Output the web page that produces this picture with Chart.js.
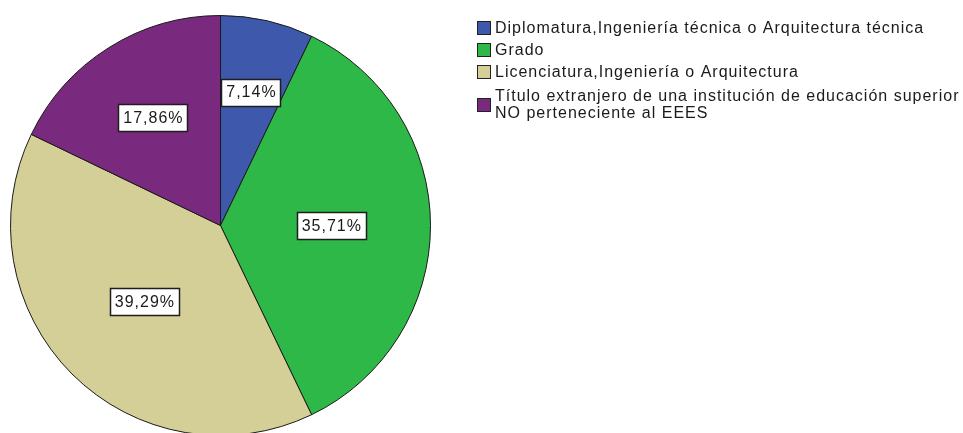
<!DOCTYPE html>
<html>
<head>
<meta charset="utf-8">
<script src="https://cdn.jsdelivr.net/npm/chart.js@4.4.1/dist/chart.umd.min.js"></script>
<style>
  html, body { margin: 0; padding: 0; background: #ffffff; overflow: hidden; }
  #wrap { width: 963px; height: 437px; position: relative; }
</style>
</head>
<body>
<div id="wrap"><canvas id="c" width="963" height="437"></canvas></div>
<script>
// ---- data ----
const categories = [
  'Diplomatura,Ingeniería técnica o Arquitectura técnica',
  'Grado',
  'Licenciatura,Ingeniería o Arquitectura',
  'Título extranjero de una institución de educación superior\nNO perteneciente al EEES'
];
const counts = [2, 10, 11, 5];
const sliceColors = ['#3E58AC', '#2EB848', '#D4CE97', '#79297E'];

const FONT = '16px "Liberation Sans", Arial, sans-serif';

function pctText(v, total) {
  return (v / total * 100).toFixed(2).replace('.', ',') + '%';
}

const sliceLabels = {
  id: 'sliceLabels',
  afterDatasetsDraw(chart) {
    const ctx = chart.ctx;
    const meta = chart.getDatasetMeta(0);
    const data = chart.data.datasets[0].data;
    const total = data.reduce((a, b) => a + b, 0);
    ctx.save();
    ctx.font = FONT;
    try { ctx.letterSpacing = '1px'; } catch (e) {}
    ctx.textAlign = 'center';
    ctx.textBaseline = 'middle';
    meta.data.forEach((arc, i) => {
      const p = arc.getProps(['x', 'y', 'startAngle', 'endAngle', 'outerRadius'], true);
      const pct = data[i] / total * 100;
      const mid = (p.startAngle + p.endAngle) / 2;
      const frac = 0.683 - 0.00435 * pct;
      const cx = p.x + Math.cos(mid) * p.outerRadius * frac;
      const cy = p.y + Math.sin(mid) * p.outerRadius * frac;
      const txt = pctText(data[i], total);
      const tw = ctx.measureText(txt).width;
      const w = Math.round(tw + 9), h = 27;
      const bx = Math.round(cx - w / 2) + 0.5, by = Math.round(cy - h / 2) + 0.5;
      ctx.fillStyle = '#ffffff';
      ctx.fillRect(bx, by, w, h);
      ctx.strokeStyle = '#1e1e1e';
      ctx.lineWidth = 1.5;
      ctx.strokeRect(bx, by, w, h);
      ctx.fillStyle = '#1a1a1a';
      ctx.fillText(txt, cx + 0.5, cy + 1);
    });
    ctx.restore();
  }
};

const sideLegend = {
  id: 'sideLegend',
  afterDraw(chart) {
    const ctx = chart.ctx;
    const labels = chart.data.labels;
    const colors = chart.data.datasets[0].backgroundColor;
    const boxX = 477, box = 13, textX = 495;
    const lineH = 16.5, gap = 5.5;
    let top = 19;
    ctx.save();
    ctx.font = FONT;
    try { ctx.letterSpacing = '1px'; } catch (e) {}
    ctx.textAlign = 'left';
    ctx.textBaseline = 'middle';
    labels.forEach((lab, i) => {
      const lines = lab.split('\n');
      const blockH = lines.length * lineH;
      const midY = top + blockH / 2;
      ctx.fillStyle = colors[i];
      ctx.fillRect(boxX + 0.5, Math.round(midY - box / 2) + 0.5, box, box);
      ctx.strokeStyle = '#222222';
      ctx.lineWidth = 1;
      ctx.strokeRect(boxX + 0.5, Math.round(midY - box / 2) + 0.5, box, box);
      ctx.fillStyle = '#1a1a1a';
      lines.forEach((ln, k) => {
        ctx.fillText(ln, textX, top + lineH * k + lineH / 2 + 1);
      });
      top += blockH + gap + (i === 2 ? 2.5 : 0);
    });
    ctx.restore();
  }
};

new Chart(document.getElementById('c'), {
  type: 'pie',
  data: {
    labels: categories,
    datasets: [{
      data: counts,
      backgroundColor: sliceColors,
      borderColor: '#1a1a1a',
      borderWidth: 1
    }]
  },
  options: {
    responsive: false,
    animation: false,
    devicePixelRatio: 1,
    layout: { padding: { left: 10, top: 14, right: 532, bottom: 0 } },
    plugins: {
      legend: { display: false },
      tooltip: { enabled: false }
    },
    elements: { arc: { borderAlign: 'center' } }
  },
  plugins: [sliceLabels, sideLegend]
});
</script>
</body>
</html>
